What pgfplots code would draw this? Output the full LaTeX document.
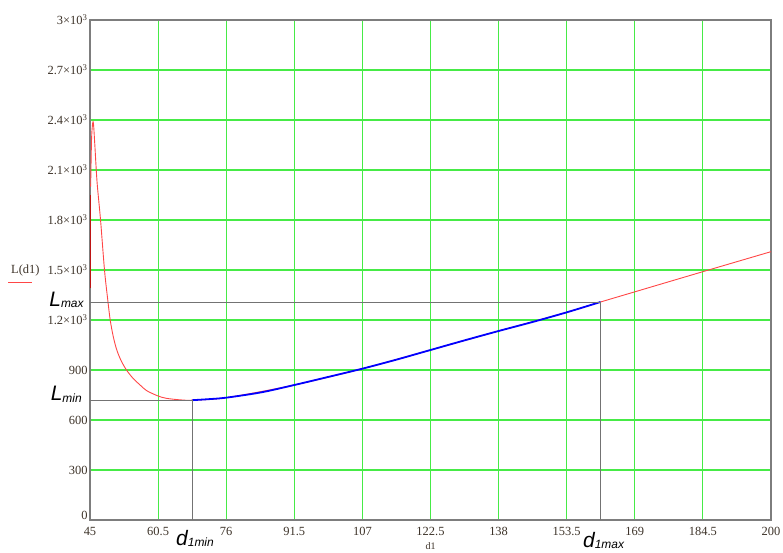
\documentclass[border=0pt]{standalone}
\usepackage{pgfplots}
\pgfplotsset{compat=1.18}
\usepackage{fontspec}
\setmainfont{Liberation Serif}
\setsansfont{Liberation Sans}
\definecolor{gridgreen}{RGB}{70,235,70}
\definecolor{framegray}{RGB}{125,125,125}
\definecolor{ticktext}{RGB}{60,50,40}
\definecolor{curvered}{RGB}{255,70,70}
\definecolor{darkred}{RGB}{190,20,20}
\newcommand{\annot}[2]{{\fontsize{21}{22}\selectfont\sffamily\itshape #1}\raisebox{-0.35ex}{\fontsize{12}{13}\selectfont\sffamily\itshape #2}}
\begin{document}
\begin{tikzpicture}
\path[use as bounding box] (-90bp,-33bp) rectangle (693bp,520bp);
\begin{axis}[
  at={(0,0)}, anchor=south west,
  scale only axis, width=681bp, height=500bp,
  xmin=45, xmax=200, ymin=0, ymax=3000,
  clip=false,
  axis line style={framegray, line width=1.4pt},
  grid=major,
  major grid style={gridgreen, line width=1.1pt},
  major tick length=0pt,
  xtick={45,60.5,76,91.5,107,122.5,138,153.5,169,184.5,200},
  xticklabels={45,60.5,76,91.5,107,122.5,138,153.5,169,184.5,200},
  ytick={0,300,600,900,1200,1500,1800,2100,2400,2700,3000},
  yticklabels={\raisebox{1.5ex}{0},300,600,900,1.2×10\textsuperscript{3},1.5×10\textsuperscript{3},1.8×10\textsuperscript{3},2.1×10\textsuperscript{3},2.4×10\textsuperscript{3},2.7×10\textsuperscript{3},3×10\textsuperscript{3}},
  ticklabel style={font=\fontsize{12.5}{14}\selectfont, text=ticktext},
  xticklabel style={yshift=-4bp},
  yticklabel style={xshift=1bp},
  xlabel={d1},
  xlabel style={font=\fontsize{10}{11}\selectfont, text=ticktext, at={(rel axis cs:0.5,0)}, anchor=center, yshift=-26bp},
]
% full curve L(d1)
\addplot[curvered, line width=0.9pt, smooth, tension=0.5] coordinates {
 (45.15,2000) (45.35,2280) (45.6,2380) (45.8,2375) (46.1,2250) (46.6,2030)
 (47.4,1800) (48.3,1500) (49.0,1330) (49.6,1200) (50.3,1100) (51.1,1020)
 (52.1,955) (53.3,900) (54.8,850) (56.4,810) (57.9,776) (60.5,744) (62.4,730)
 (65.5,721) (68.3,719) (76,734) (91.5,810) (107,908)
 (122.5,1020) (138,1134) (153.5,1246) (161.2,1308) (169,1369) (184.5,1490) (200,1610)
};
\addplot[darkred, line width=1.8pt] coordinates {(45.1,1390) (45.1,1950)};
% optimal range
\addplot[blue, line width=1.8pt, smooth, tension=0.5] coordinates {
 (68.3,719) (72,725) (76,734) (84,766) (91.5,810) (99,857) (107,908) (115,964)
 (122.5,1020) (130,1076) (138,1134) (146,1190) (153.5,1246) (161.2,1308)
};
% reference lines
\addplot[black!55, line width=0.8pt] coordinates {(45,719) (68.3,719) (68.3,0)};
\addplot[black!55, line width=0.8pt] coordinates {(45,1308) (161.2,1308) (161.2,0)};
% annotations
\node[inner sep=0pt] at (axis cs:39.65,1322) {\annot{L}{max}};
\node[inner sep=0pt] at (axis cs:39.6,754) {\annot{L}{min}};
\node[inner sep=0pt] at (axis cs:68.9,-110) {\annot{d}{1min}};
\node[inner sep=0pt] at (axis cs:161.9,-122) {\annot{d}{1max}};
\node[font=\fontsize{12.5}{14}\selectfont, text=ticktext, inner sep=0pt] at (axis cs:30.3,1494) {L(d1)};
\node[inner sep=0pt] at (axis cs:29.1,1426) {\textcolor{curvered}{\rule{24bp}{1.3pt}}};
\end{axis}
\end{tikzpicture}
\end{document}
